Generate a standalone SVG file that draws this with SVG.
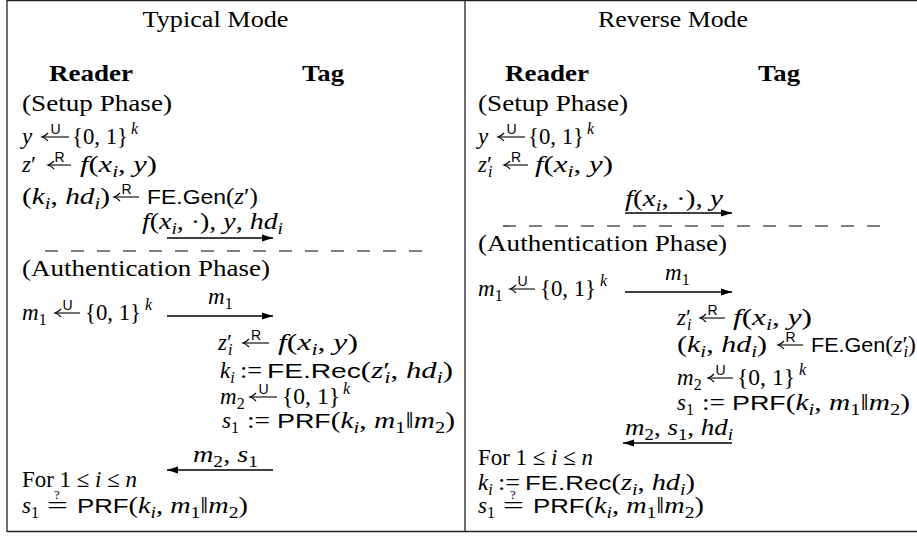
<svg xmlns="http://www.w3.org/2000/svg" width="917" height="536" viewBox="0 0 917 536">
<style>
.t{font-family:"Liberation Serif","DejaVu Serif",serif;font-size:23px;fill:#000}
.i{font-style:italic}
.b{font-weight:bold}
.s{font-size:16px}
.sf{font-family:"Liberation Sans","DejaVu Sans",sans-serif;font-size:21px;font-style:normal}
.lb{font-family:"Liberation Sans","DejaVu Sans",sans-serif;font-size:14px;text-anchor:middle;fill:#000}
.q{font-family:"Liberation Serif","DejaVu Serif",serif;font-size:13px;text-anchor:middle;fill:#000}
.sa{stroke:#000;stroke-width:1.1;fill:none}
.frame{stroke:#222;stroke-width:1.3;fill:none}
.msg{stroke:#000;stroke-width:1.3;fill:none}
.dash{stroke:#000;stroke-width:1.2;stroke-dasharray:13 13;fill:none}
</style>
<defs>
<marker id="ah" markerUnits="userSpaceOnUse" markerWidth="12" markerHeight="8" refX="11" refY="4" orient="auto-start-reverse">
<path d="M0,0.5 L11,4 L0,7.5 Z" fill="#000"/>
</marker>
<marker id="sh" markerUnits="userSpaceOnUse" markerWidth="9" markerHeight="10" refX="7.5" refY="5" orient="auto" overflow="visible">
<path d="M1.5,1 Q4.5,4.2 7.5,5 Q4.5,5.8 1.5,9" fill="none" stroke="#000" stroke-width="1.1"/>
</marker>
</defs>

<g id="frame">
<line class="frame" x1="7" y1="0.5" x2="917" y2="0.5"/>
<line class="frame" x1="7" y1="0" x2="7" y2="532"/>
<line class="frame" x1="465" y1="0" x2="465" y2="532"/>
<line class="frame" x1="7" y1="531.5" x2="917" y2="531.5"/>
</g>

<g id="connectors">
<line class="msg" x1="167" y1="238" x2="273" y2="238" marker-end="url(#ah)"/>
<line class="dash" x1="45" y1="251" x2="430" y2="251"/>
<line class="msg" x1="167" y1="316" x2="273" y2="316" marker-end="url(#ah)"/>
<line class="msg" x1="273" y1="470" x2="167" y2="470" marker-end="url(#ah)"/>
<line class="msg" x1="625" y1="213" x2="732" y2="213" marker-end="url(#ah)"/>
<line class="dash" x1="503" y1="226" x2="888" y2="226"/>
<line class="msg" x1="625" y1="292" x2="732" y2="292" marker-end="url(#ah)"/>
<line class="msg" x1="732" y1="443" x2="623" y2="443" marker-end="url(#ah)"/>
</g>

<g id="sample-arrows">
<line class="sa" x1="69" y1="137" x2="42" y2="137" marker-end="url(#sh)"/>
<line class="sa" x1="71" y1="165" x2="48" y2="165" marker-end="url(#sh)"/>
<line class="sa" x1="139" y1="197" x2="114" y2="197" marker-end="url(#sh)"/>
<line class="sa" x1="80" y1="313" x2="55" y2="313" marker-end="url(#sh)"/>
<line class="sa" x1="269" y1="343" x2="243" y2="343" marker-end="url(#sh)"/>
<line class="sa" x1="277" y1="397" x2="250" y2="397" marker-end="url(#sh)"/>
<line class="sa" x1="525" y1="137" x2="498" y2="137" marker-end="url(#sh)"/>
<line class="sa" x1="528" y1="165" x2="504" y2="165" marker-end="url(#sh)"/>
<line class="sa" x1="535" y1="289" x2="510" y2="289" marker-end="url(#sh)"/>
<line class="sa" x1="725" y1="318" x2="700" y2="318" marker-end="url(#sh)"/>
<line class="sa" x1="803" y1="345" x2="778" y2="345" marker-end="url(#sh)"/>
<line class="sa" x1="733" y1="378" x2="708" y2="378" marker-end="url(#sh)"/>
</g>

<g id="typical-mode">
<text class="t" x="215.5" y="27" text-anchor="middle" textLength="146" lengthAdjust="spacingAndGlyphs">Typical Mode</text>
<text class="t b" x="49" y="81" textLength="84" lengthAdjust="spacingAndGlyphs">Reader</text>
<text class="t b" x="302" y="81" textLength="42" lengthAdjust="spacingAndGlyphs">Tag</text>
<text class="t" x="22" y="111" textLength="150" lengthAdjust="spacingAndGlyphs">(Setup Phase)</text>

<g id="t-row-y">
<text class="t i" x="22" y="144">y</text>
<text class="lb" x="55.5" y="134">U</text>
<text class="t" x="72" y="144" textLength="56" lengthAdjust="spacingAndGlyphs">{0, 1}</text>
<text class="t i s" x="131" y="134">k</text>
</g>

<g id="t-row-z">
<text class="t" x="22" y="172"><tspan class="i">z</tspan>′</text>
<text class="lb" x="59.5" y="162">R</text>
<text class="t" x="80" y="172" textLength="77" lengthAdjust="spacingAndGlyphs"><tspan class="i">f</tspan>(<tspan class="i">x</tspan><tspan class="s i" dy="5">i</tspan><tspan dy="-5">, </tspan><tspan class="i">y</tspan>)</text>
</g>

<g id="t-row-gen">
<text class="t" x="22" y="204" textLength="88" lengthAdjust="spacingAndGlyphs">(<tspan class="i">k</tspan><tspan class="s i" dy="5">i</tspan><tspan dy="-5">, </tspan><tspan class="i">hd</tspan><tspan class="s i" dy="5">i</tspan><tspan dy="-5">)</tspan></text>
<text class="lb" x="126.5" y="194">R</text>
<text class="t" x="147" y="204" textLength="111" lengthAdjust="spacingAndGlyphs"><tspan class="sf">FE.Gen</tspan>(<tspan class="i">z</tspan>′)</text>
</g>

<g id="t-msg-setup">
<text class="t" x="142" y="229" textLength="141" lengthAdjust="spacingAndGlyphs"><tspan class="i">f</tspan>(<tspan class="i">x</tspan><tspan class="s i" dy="5">i</tspan><tspan dy="-5">, ·), </tspan><tspan class="i">y</tspan>, <tspan class="i">hd</tspan><tspan class="s i" dy="5">i</tspan></text>
</g>

<text class="t" x="22" y="276" textLength="248" lengthAdjust="spacingAndGlyphs">(Authentication Phase)</text>

<g id="t-row-m1">
<text class="t" x="22" y="320"><tspan class="i">m</tspan><tspan class="s" dy="5">1</tspan></text>
<text class="lb" x="67.5" y="310">U</text>
<text class="t" x="85" y="320" textLength="56" lengthAdjust="spacingAndGlyphs">{0, 1}</text>
<text class="t i s" x="145" y="310">k</text>
<text class="t" x="208" y="304"><tspan class="i">m</tspan><tspan class="s" dy="5">1</tspan></text>
</g>

<g id="t-row-zi">
<text class="t" x="218" y="350"><tspan class="i">z</tspan>′<tspan class="s i" dx="-4" dy="5">i</tspan></text>
<text class="lb" x="256" y="340">R</text>
<text class="t" x="278" y="350" textLength="80" lengthAdjust="spacingAndGlyphs"><tspan class="i">f</tspan>(<tspan class="i">x</tspan><tspan class="s i" dy="5">i</tspan><tspan dy="-5">, </tspan><tspan class="i">y</tspan>)</text>
</g>

<g id="t-row-rec">
<text class="t" x="220" y="378"><tspan class="i">k</tspan><tspan class="s i" dy="5">i</tspan></text>
<text class="t" x="240" y="378" textLength="22" lengthAdjust="spacingAndGlyphs">:=</text>
<text class="t" x="267" y="378" textLength="186" lengthAdjust="spacingAndGlyphs"><tspan class="sf">FE.Rec</tspan>(<tspan class="i">z</tspan>′<tspan class="s i" dx="-4" dy="5">i</tspan><tspan dy="-5">, </tspan><tspan class="i">hd</tspan><tspan class="s i" dy="5">i</tspan><tspan dy="-5">)</tspan></text>
</g>

<g id="t-row-m2">
<text class="t" x="220" y="404"><tspan class="i">m</tspan><tspan class="s" dy="5">2</tspan></text>
<text class="lb" x="263.5" y="394">U</text>
<text class="t" x="282" y="404" textLength="58" lengthAdjust="spacingAndGlyphs">{0, 1}</text>
<text class="t i s" x="343" y="394">k</text>
</g>

<g id="t-row-prf">
<text class="t" x="222" y="428"><tspan class="i">s</tspan><tspan class="s" dy="5">1</tspan></text>
<text class="t" x="247" y="428" textLength="23" lengthAdjust="spacingAndGlyphs">:=</text>
<text class="t" x="277" y="428" textLength="178" lengthAdjust="spacingAndGlyphs"><tspan class="sf">PRF</tspan>(<tspan class="i">k</tspan><tspan class="s i" dy="5">i</tspan><tspan dy="-5">, </tspan><tspan class="i">m</tspan><tspan class="s" dy="5">1</tspan><tspan dy="-5">‖</tspan><tspan class="i">m</tspan><tspan class="s" dy="5">2</tspan><tspan dy="-5">)</tspan></text>
</g>

<g id="t-msg-resp">
<text class="t" x="193" y="462" textLength="65" lengthAdjust="spacingAndGlyphs"><tspan class="i">m</tspan><tspan class="s" dy="5">2</tspan><tspan dy="-5">, </tspan><tspan class="i">s</tspan><tspan class="s" dy="5">1</tspan></text>
</g>

<text class="t" x="22" y="487" textLength="115" lengthAdjust="spacingAndGlyphs">For 1 ≤ <tspan class="i">i</tspan> ≤ <tspan class="i">n</tspan></text>

<g id="t-row-check">
<text class="t" x="22" y="513"><tspan class="i">s</tspan><tspan class="s" dy="5">1</tspan></text>
<text class="t" x="47" y="513" textLength="21" lengthAdjust="spacingAndGlyphs">=</text>
<text class="q" x="57" y="499">?</text>
<text class="t" x="77" y="513" textLength="171" lengthAdjust="spacingAndGlyphs"><tspan class="sf">PRF</tspan>(<tspan class="i">k</tspan><tspan class="s i" dy="5">i</tspan><tspan dy="-5">, </tspan><tspan class="i">m</tspan><tspan class="s" dy="5">1</tspan><tspan dy="-5">‖</tspan><tspan class="i">m</tspan><tspan class="s" dy="5">2</tspan><tspan dy="-5">)</tspan></text>
</g>
</g>

<g id="reverse-mode">
<text class="t" x="673" y="27" text-anchor="middle" textLength="150" lengthAdjust="spacingAndGlyphs">Reverse Mode</text>
<text class="t b" x="505" y="81" textLength="84" lengthAdjust="spacingAndGlyphs">Reader</text>
<text class="t b" x="758" y="81" textLength="42" lengthAdjust="spacingAndGlyphs">Tag</text>
<text class="t" x="478" y="111" textLength="150" lengthAdjust="spacingAndGlyphs">(Setup Phase)</text>

<g id="r-row-y">
<text class="t i" x="478" y="144">y</text>
<text class="lb" x="511.5" y="134">U</text>
<text class="t" x="528" y="144" textLength="56" lengthAdjust="spacingAndGlyphs">{0, 1}</text>
<text class="t i s" x="587" y="134">k</text>
</g>

<g id="r-row-z">
<text class="t" x="478" y="172"><tspan class="i">z</tspan>′<tspan class="s i" dx="-4" dy="5">i</tspan></text>
<text class="lb" x="516" y="162">R</text>
<text class="t" x="535" y="172" textLength="78" lengthAdjust="spacingAndGlyphs"><tspan class="i">f</tspan>(<tspan class="i">x</tspan><tspan class="s i" dy="5">i</tspan><tspan dy="-5">, </tspan><tspan class="i">y</tspan>)</text>
</g>

<g id="r-msg-setup">
<text class="t" x="625" y="206" textLength="98" lengthAdjust="spacingAndGlyphs"><tspan class="i">f</tspan>(<tspan class="i">x</tspan><tspan class="s i" dy="5">i</tspan><tspan dy="-5">, ·), </tspan><tspan class="i">y</tspan></text>
</g>

<text class="t" x="478" y="251" textLength="249" lengthAdjust="spacingAndGlyphs">(Authentication Phase)</text>

<g id="r-row-m1">
<text class="t" x="478" y="296"><tspan class="i">m</tspan><tspan class="s" dy="5">1</tspan></text>
<text class="lb" x="522.5" y="286">U</text>
<text class="t" x="540" y="296" textLength="56" lengthAdjust="spacingAndGlyphs">{0, 1}</text>
<text class="t i s" x="600" y="286">k</text>
<text class="t" x="665" y="280"><tspan class="i">m</tspan><tspan class="s" dy="5">1</tspan></text>
</g>

<g id="r-row-zi">
<text class="t" x="677" y="325"><tspan class="i">z</tspan>′<tspan class="s i" dx="-4" dy="5">i</tspan></text>
<text class="lb" x="712.5" y="315">R</text>
<text class="t" x="733" y="325" textLength="79" lengthAdjust="spacingAndGlyphs"><tspan class="i">f</tspan>(<tspan class="i">x</tspan><tspan class="s i" dy="5">i</tspan><tspan dy="-5">, </tspan><tspan class="i">y</tspan>)</text>
</g>

<g id="r-row-gen">
<text class="t" x="677" y="352" textLength="90" lengthAdjust="spacingAndGlyphs">(<tspan class="i">k</tspan><tspan class="s i" dy="5">i</tspan><tspan dy="-5">, </tspan><tspan class="i">hd</tspan><tspan class="s i" dy="5">i</tspan><tspan dy="-5">)</tspan></text>
<text class="lb" x="790.5" y="342">R</text>
<text class="t" x="811" y="352" textLength="105" lengthAdjust="spacingAndGlyphs"><tspan class="sf">FE.Gen</tspan>(<tspan class="i">z</tspan>′<tspan class="s i" dx="-4" dy="5">i</tspan><tspan dy="-5">)</tspan></text>
</g>

<g id="r-row-m2">
<text class="t" x="677" y="385"><tspan class="i">m</tspan><tspan class="s" dy="5">2</tspan></text>
<text class="lb" x="720.5" y="375">U</text>
<text class="t" x="737" y="385" textLength="58" lengthAdjust="spacingAndGlyphs">{0, 1}</text>
<text class="t i s" x="799" y="375">k</text>
</g>

<g id="r-row-prf">
<text class="t" x="677" y="410"><tspan class="i">s</tspan><tspan class="s" dy="5">1</tspan></text>
<text class="t" x="702" y="410" textLength="23" lengthAdjust="spacingAndGlyphs">:=</text>
<text class="t" x="732" y="410" textLength="178" lengthAdjust="spacingAndGlyphs"><tspan class="sf">PRF</tspan>(<tspan class="i">k</tspan><tspan class="s i" dy="5">i</tspan><tspan dy="-5">, </tspan><tspan class="i">m</tspan><tspan class="s" dy="5">1</tspan><tspan dy="-5">‖</tspan><tspan class="i">m</tspan><tspan class="s" dy="5">2</tspan><tspan dy="-5">)</tspan></text>
</g>

<g id="r-msg-resp">
<text class="t" x="625" y="435" textLength="108" lengthAdjust="spacingAndGlyphs"><tspan class="i">m</tspan><tspan class="s" dy="5">2</tspan><tspan dy="-5">, </tspan><tspan class="i">s</tspan><tspan class="s" dy="5">1</tspan><tspan dy="-5">, </tspan><tspan class="i">hd</tspan><tspan class="s i" dy="5">i</tspan></text>
</g>

<text class="t" x="478" y="465" textLength="115" lengthAdjust="spacingAndGlyphs">For 1 ≤ <tspan class="i">i</tspan> ≤ <tspan class="i">n</tspan></text>

<g id="r-row-rec">
<text class="t" x="478" y="490"><tspan class="i">k</tspan><tspan class="s i" dy="5">i</tspan></text>
<text class="t" x="498" y="490" textLength="22" lengthAdjust="spacingAndGlyphs">:=</text>
<text class="t" x="525" y="490" textLength="170" lengthAdjust="spacingAndGlyphs"><tspan class="sf">FE.Rec</tspan>(<tspan class="i">z</tspan><tspan class="s i" dy="5">i</tspan><tspan dy="-5">, </tspan><tspan class="i">hd</tspan><tspan class="s i" dy="5">i</tspan><tspan dy="-5">)</tspan></text>
</g>

<g id="r-row-check">
<text class="t" x="478" y="513"><tspan class="i">s</tspan><tspan class="s" dy="5">1</tspan></text>
<text class="t" x="503" y="513" textLength="21" lengthAdjust="spacingAndGlyphs">=</text>
<text class="q" x="513" y="499">?</text>
<text class="t" x="533" y="513" textLength="171" lengthAdjust="spacingAndGlyphs"><tspan class="sf">PRF</tspan>(<tspan class="i">k</tspan><tspan class="s i" dy="5">i</tspan><tspan dy="-5">, </tspan><tspan class="i">m</tspan><tspan class="s" dy="5">1</tspan><tspan dy="-5">‖</tspan><tspan class="i">m</tspan><tspan class="s" dy="5">2</tspan><tspan dy="-5">)</tspan></text>
</g>
</g>
</svg>
